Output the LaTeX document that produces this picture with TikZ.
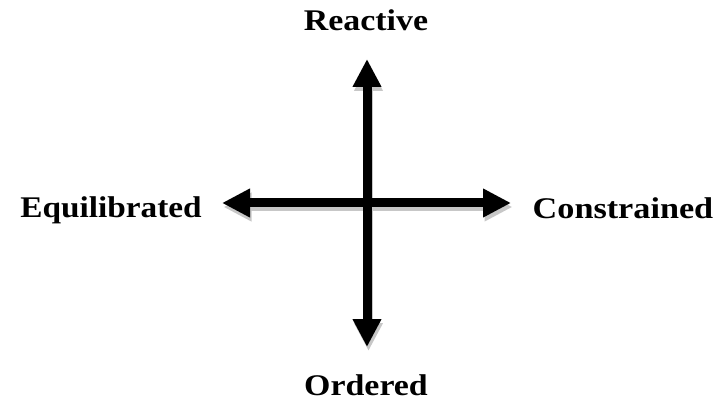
\documentclass[tikz,border=0pt]{standalone}
\usepackage{fontspec}
\setmainfont{Liberation Serif}
\usetikzlibrary{arrows.meta}
\tikzset{
  axis/.style={line width=9pt, black, {Triangle[width=27pt,length=28pt]}-{Triangle[width=27pt,length=28pt]}},
  axisshadow/.style={line width=9pt, black!22, {Triangle[width=27pt,length=28pt]}-{Triangle[width=27pt,length=28pt]}},
  lab/.style={font=\bfseries\fontsize{30}{34}\selectfont, inner sep=0pt, anchor=base}
}
\begin{document}
\begin{tikzpicture}[x=1pt,y=-1pt]
\useasboundingbox (0,0) rectangle (723,406);
\coordinate (T) at (367,59);
\coordinate (B) at (367,347);
\coordinate (L) at (222,203);
\coordinate (R) at (511,203);
\begin{scope}[transform canvas={shift={(1.5pt,-4pt)}}]
\draw[axisshadow] (L) -- (R);
\draw[axisshadow] (B) -- (T);
\end{scope}
\draw[axis] (L) -- (R);
\draw[axis] (B) -- (T);
\node[lab] (re) at (366,31) {\scalebox{1.13}[1]{Reactive}};
\node[lab] (eq) at (111,218) {\scalebox{1.11}[1]{Equilibrated}};
\node[lab] (co) at (623,219) {\scalebox{1.14}[1]{Constrained}};
\node[lab] (or) at (366,395) {\scalebox{1.13}[1]{Ordered}};
\end{tikzpicture}
\end{document}
